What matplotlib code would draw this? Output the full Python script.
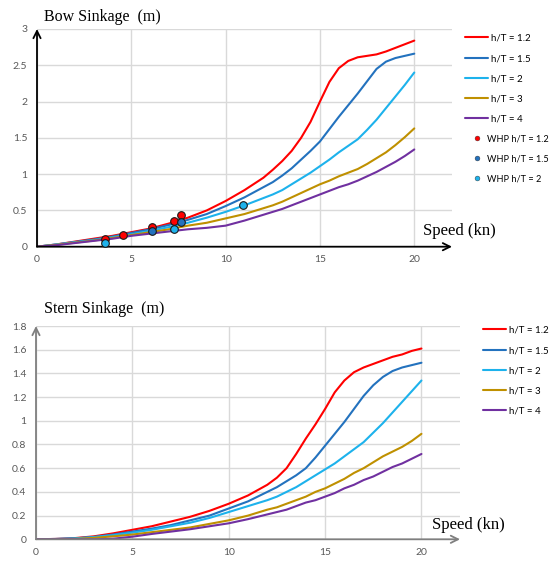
import numpy as np
import matplotlib
matplotlib.use('Agg')
import matplotlib.pyplot as plt
from matplotlib.lines import Line2D

# ── Data ──────────────────────────────────────────────────────────────────────
speed = [0, 1, 2, 3, 4, 5, 6, 7, 8, 9, 10, 11,
         12, 12.5, 13, 13.5, 14, 14.5, 15, 15.5, 16, 16.5, 17, 17.5, 18, 18.5, 19, 19.5, 20]

labels = ['h/T = 1.2', 'h/T = 1.5', 'h/T = 2', 'h/T = 3', 'h/T = 4']
whp_labels = ['WHP h/T = 1.2', 'WHP h/T = 1.5', 'WHP h/T = 2']

bow_12 = [0, 0.03, 0.07, 0.11, 0.15, 0.20, 0.25, 0.32, 0.40, 0.50, 0.63, 0.78,
          0.95, 1.06, 1.18, 1.32, 1.50, 1.72, 2.00, 2.27, 2.46, 2.56, 2.61, 2.63, 2.65, 2.69, 2.74, 2.79, 2.84]
bow_15 = [0, 0.03, 0.065, 0.10, 0.14, 0.19, 0.24, 0.30, 0.37, 0.45, 0.56, 0.68,
          0.82, 0.89, 0.98, 1.08, 1.20, 1.32, 1.45, 1.62, 1.79, 1.95, 2.11, 2.28, 2.45, 2.55, 2.60, 2.63, 2.66]
bow_2 = [0, 0.03, 0.06, 0.09, 0.13, 0.17, 0.22, 0.27, 0.33, 0.40, 0.48, 0.57,
         0.67, 0.72, 0.78, 0.86, 0.94, 1.02, 1.11, 1.20, 1.30, 1.39, 1.48, 1.61, 1.75, 1.91, 2.07, 2.23, 2.40]
bow_3 = [0, 0.025, 0.055, 0.085, 0.12, 0.16, 0.20, 0.24, 0.29, 0.33, 0.39, 0.45,
         0.53, 0.57, 0.62, 0.68, 0.74, 0.80, 0.86, 0.91, 0.97, 1.02, 1.07, 1.14, 1.22, 1.30, 1.40, 1.51, 1.63]
bow_4 = [0, 0.02, 0.05, 0.08, 0.11, 0.15, 0.18, 0.21, 0.24, 0.26, 0.29, 0.36,
         0.44, 0.48, 0.52, 0.57, 0.62, 0.67, 0.72, 0.77, 0.82, 0.86, 0.91, 0.97, 1.03, 1.10, 1.17, 1.25, 1.34]

stern_12 = [0, 0.003, 0.01, 0.025, 0.05, 0.08, 0.11, 0.15, 0.19, 0.24, 0.30, 0.37,
            0.46, 0.52, 0.60, 0.72, 0.85, 0.97, 1.10, 1.24, 1.34, 1.41, 1.45, 1.48, 1.51, 1.54, 1.56, 1.59, 1.61]
stern_15 = [0, 0.003, 0.008, 0.02, 0.04, 0.065, 0.09, 0.12, 0.16, 0.20, 0.26, 0.32,
            0.40, 0.44, 0.49, 0.54, 0.60, 0.69, 0.79, 0.89, 0.99, 1.10, 1.21, 1.30, 1.37, 1.42, 1.45, 1.47, 1.49]
stern_2 = [0, 0.002, 0.007, 0.018, 0.035, 0.056, 0.08, 0.11, 0.14, 0.18, 0.23, 0.28,
           0.33, 0.36, 0.40, 0.44, 0.49, 0.54, 0.59, 0.64, 0.70, 0.76, 0.82, 0.90, 0.98, 1.07, 1.16, 1.25, 1.34]
stern_3 = [0, 0, 0.003, 0.012, 0.025, 0.04, 0.06, 0.08, 0.10, 0.13, 0.16, 0.20,
           0.25, 0.27, 0.30, 0.33, 0.36, 0.40, 0.43, 0.47, 0.51, 0.56, 0.60, 0.65, 0.70, 0.74, 0.78, 0.83, 0.89]
stern_4 = [0, 0, 0, 0, 0.005, 0.022, 0.045, 0.065, 0.085, 0.11, 0.135, 0.17,
           0.21, 0.23, 0.25, 0.28, 0.31, 0.33, 0.36, 0.39, 0.43, 0.46, 0.50, 0.53, 0.57, 0.61, 0.64, 0.68, 0.72]

# WHP measurements (bow)
whp12_x = [3.6, 4.56, 6.08, 7.25, 7.66]
whp12_y = [0.10, 0.157, 0.275, 0.36, 0.44]
whp15_x = [6.08, 7.66]
whp15_y = [0.216, 0.345]
whp2_x = [3.6, 7.25, 10.91]
whp2_y = [0.055, 0.25, 0.58]

COLORS = ['#FF0000', '#2372BE', '#1DB2EC', '#BF9000', '#7030A0']
TICK_C = '#595959'
GRID_C = '#D9D9D9'
SANS = 'Lato'
SERIF = 'Liberation Serif'

W, H = 550, 583
fig = plt.figure(figsize=(W/100, H/100), dpi=100, facecolor='white')

def frac(l, t, r, b):
    return [l/W, 1-b/H, (r-l)/W, (b-t)/H]

def setup(ax, ymax, ystep, axis_c):
    yt = np.round(np.arange(0, ymax + 1e-9, ystep), 2)
    ax.set_xlim(0, 22)
    ax.set_ylim(0, ymax)
    ax.set_xticks([0, 5, 10, 15, 20])
    ax.set_yticks(yt)
    ax.set_yticklabels([f'{v:g}' for v in yt])
    for s in ax.spines.values():
        s.set_visible(False)
    ax.grid(True, color=GRID_C, lw=1.0)
    ax.set_axisbelow(True)
    ax.tick_params(axis='y', length=0, pad=7)
    ax.tick_params(axis='x', length=0, pad=6)
    for lab in ax.get_xticklabels() + ax.get_yticklabels():
        lab.set_fontfamily(SANS); lab.set_fontsize(7.5); lab.set_color(TICK_C)
    ax.annotate('', xy=(0, 1.0), xytext=(0, 0), xycoords='axes fraction',
                arrowprops=dict(arrowstyle='->', color=axis_c, lw=1.3, mutation_scale=13, shrinkA=0, shrinkB=0))
    ax.annotate('', xy=(1.0, 0), xytext=(0, 0), xycoords='axes fraction',
                arrowprops=dict(arrowstyle='->', color=axis_c, lw=1.3, mutation_scale=13, shrinkA=0, shrinkB=0))

LEG = dict(loc='upper left', bbox_transform=fig.transFigure, frameon=False, borderpad=0,
           handlelength=2.4, handletextpad=0.3, labelspacing=1.15, prop=dict(family=SANS, size=7))

# ── Bow sinkage ───────────────────────────────────────────────────────────────
ax1 = fig.add_axes(frac(37, 29, 452, 246.7))
setup(ax1, 3, 0.5, '#000000')
line_h = []
for ys, c, lab in zip([bow_12, bow_15, bow_2, bow_3, bow_4], COLORS, labels):
    line_h += ax1.plot(speed, ys, color=c, lw=1.5, label=lab, solid_capstyle='round')
for xs, ys, c, lab in zip([whp12_x, whp15_x, whp2_x], [whp12_y, whp15_y, whp2_y], COLORS[:3], whp_labels):
    ax1.plot(xs, ys, 'o', ms=5.5, mfc=c, mec='#1a1a1a', mew=0.8, label=lab, zorder=5, clip_on=False)

leg1 = ax1.legend(line_h, labels, bbox_to_anchor=(460/W, 1-29/H), **LEG)
ax1.add_artist(leg1)
dot_h = [Line2D([], [], ls='none', marker='o', ms=3.5, mfc=c, mec='#333333', mew=0.3) for c in COLORS[:3]]
ax1.legend(dot_h, whp_labels, loc='upper left', bbox_to_anchor=(465/W, 1-130/H), bbox_transform=fig.transFigure,
           frameon=False, borderpad=0, handlelength=1.6, handletextpad=0.25, labelspacing=1.2,
           prop=dict(family=SANS, size=6.6))
fig.text(44/W, 1-17/H, 'Bow Sinkage  (m)', family=SERIF, size=11.5, va='center', ha='left')
fig.text(423/W, 1-231/H, 'Speed (kn)', family=SERIF, size=12, va='center', ha='left')

# ── Stern sinkage ─────────────────────────────────────────────────────────────
ax2 = fig.add_axes(frac(36, 326, 460, 539.3))
setup(ax2, 1.8, 0.2, '#7F7F7F')
for ys, c, lab in zip([stern_12, stern_15, stern_2, stern_3, stern_4], COLORS, labels):
    ax2.plot(speed, ys, color=c, lw=1.5, label=lab, solid_capstyle='round')
ax2.legend(bbox_to_anchor=(478/W, 1-321/H), **LEG)
fig.text(44/W, 1-309/H, 'Stern Sinkage  (m)', family=SERIF, size=11.5, va='center', ha='left')
fig.text(432/W, 1-525/H, 'Speed (kn)', family=SERIF, size=12, va='center', ha='left')

fig.savefig('out.png', dpi=100, facecolor='white')
